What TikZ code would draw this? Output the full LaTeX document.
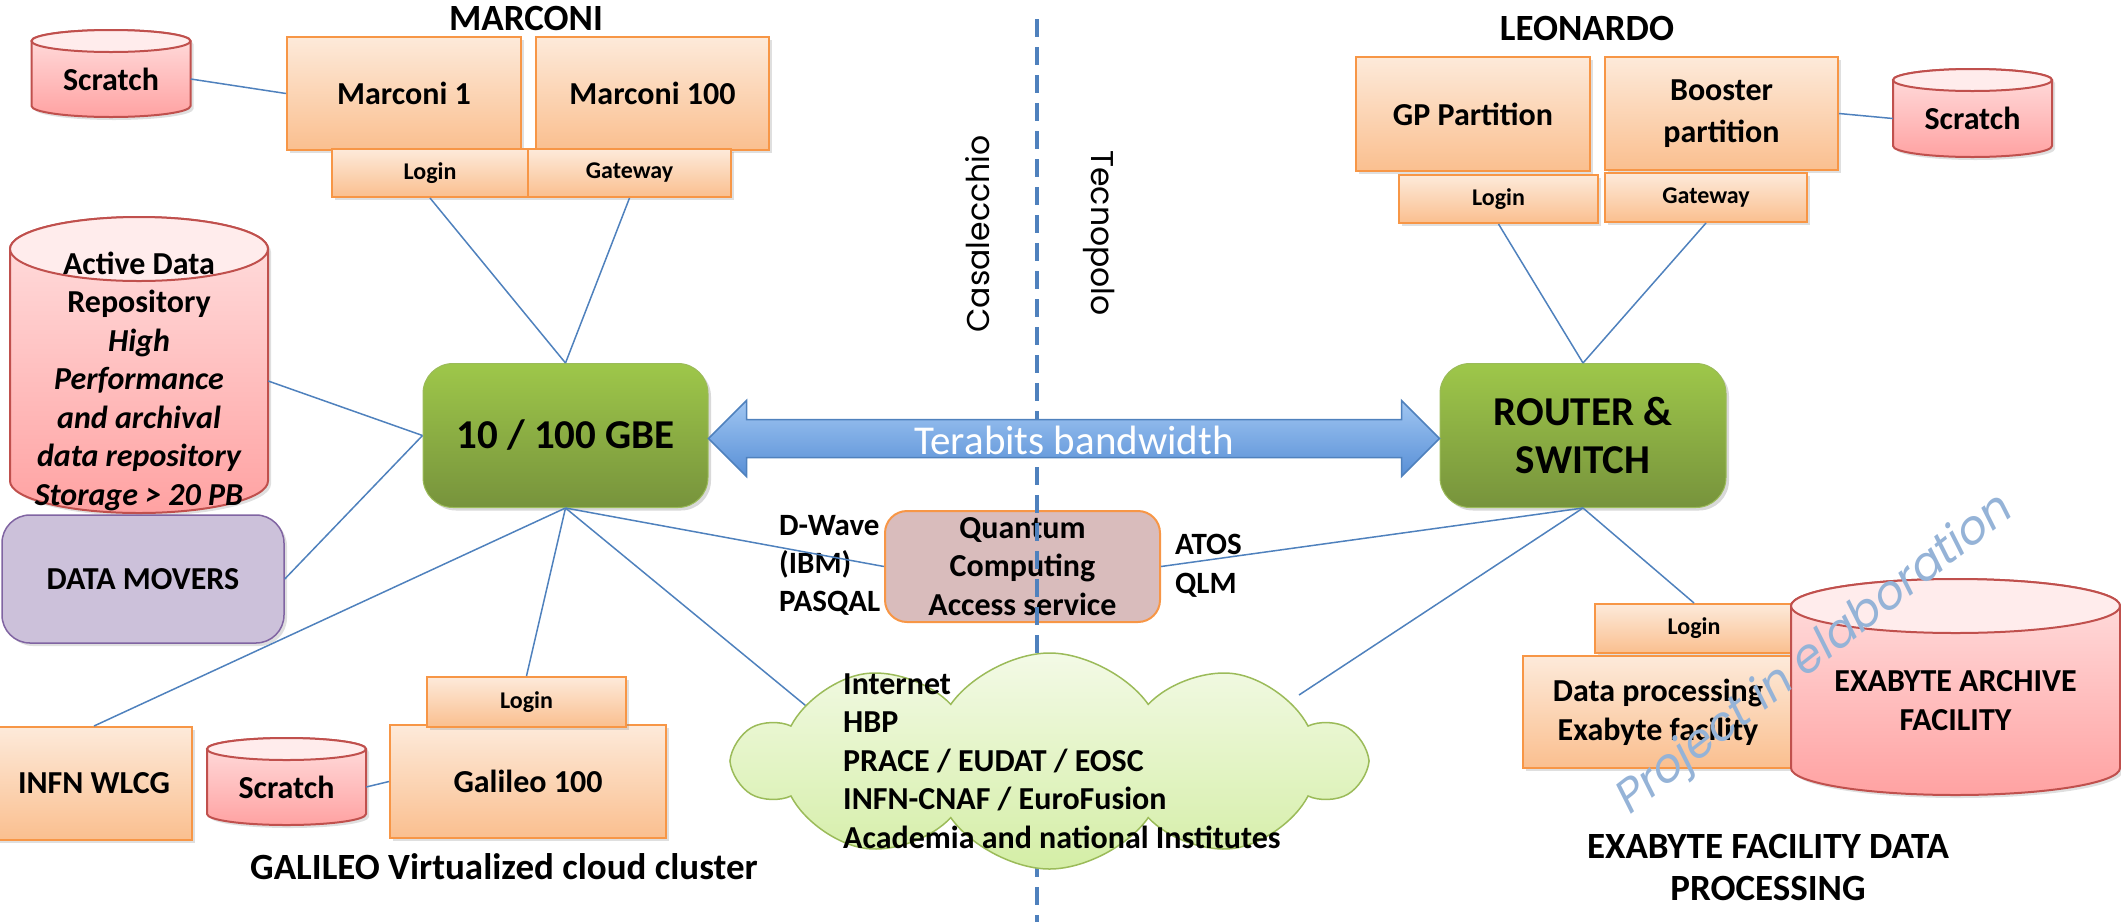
\documentclass[tikz,border=0pt]{standalone}
\usepackage{fontspec}
\setmainfont{Carlito}
\newfontfamily\gothic{Poppins}
\newfontfamily\gothicit[FakeSlant=0.2]{Poppins}
\usetikzlibrary{positioning,calc,shapes.symbols,shadows}

\definecolor{boxline}{RGB}{247,150,70}
\definecolor{boxtop}{RGB}{253,234,218}
\definecolor{boxbot}{RGB}{250,191,143}
\definecolor{greenline}{RGB}{155,187,89}
\definecolor{greentop}{RGB}{158,199,74}
\definecolor{greenbot}{RGB}{119,147,60}
\definecolor{drumline}{RGB}{192,80,77}
\definecolor{drumtop}{RGB}{255,224,224}
\definecolor{drumbot}{RGB}{255,162,162}
\definecolor{drumcap}{RGB}{255,236,236}
\definecolor{linkblue}{RGB}{79,129,189}
\definecolor{arrowtop}{RGB}{160,198,242}
\definecolor{arrowbot}{RGB}{88,143,214}
\definecolor{quantumfill}{RGB}{217,188,188}
\definecolor{moverfill}{RGB}{204,193,218}
\definecolor{moverline}{RGB}{128,100,162}
\definecolor{cloudtop}{RGB}{243,250,230}
\definecolor{cloudbot}{RGB}{212,238,166}
\definecolor{wmblue}{RGB}{149,179,215}

% storage drum: name, cx, cy, width, height, cap radius, text
\newcommand{\drum}[7]{%
  \draw[drumbody] (#2-#4/2,#3-#5/2+#6) -- (#2-#4/2,#3+#5/2-#6)
    arc[start angle=180,end angle=0,x radius=#4/2,y radius=#6]
    -- (#2+#4/2,#3-#5/2+#6)
    arc[start angle=0,end angle=-180,x radius=#4/2,y radius=#6] -- cycle;
  \draw[drumline,line width=2pt,fill=drumcap] (#2,#3-#5/2+#6) ellipse[x radius=#4/2,y radius=#6];
  \node[drumtext,minimum width=#4,minimum height=#5-#6] (#1) at (#2,#3+#6/2) {#7};
}

\begin{document}
\begin{tikzpicture}[x=1pt,y=-1pt,
    box/.style={draw=boxline,line width=2pt,top color=boxtop,bottom color=boxbot,inner sep=0pt,align=center,font=\fontsize{32}{39}\selectfont\bfseries,drop shadow={opacity=0.25,shadow xshift=3pt,shadow yshift=-3pt}},
    loginbox/.style={box,font=\fontsize{24}{28}\selectfont\bfseries},
    hub/.style={draw=greenline,line width=1pt,rounded corners=30pt,top color=greentop,bottom color=greenbot,inner sep=0pt,align=center,font=\fontsize{41}{48}\selectfont\bfseries,drop shadow={opacity=0.3,shadow xshift=3pt,shadow yshift=-3pt}},
    drumbody/.style={draw=drumline,line width=2pt,top color=drumtop,bottom color=drumbot,drop shadow={opacity=0.25,shadow xshift=3pt,shadow yshift=-3pt}},
    drumtext/.style={inner sep=0pt,align=center,font=\fontsize{32}{38.5}\selectfont\bfseries},
    link/.style={draw=linkblue,line width=1.5pt},
    title/.style={inner sep=0pt,align=center,font=\fontsize{37}{42}\selectfont\bfseries},
    plain/.style={inner sep=0pt,align=left,font=\fontsize{32}{38.5}\selectfont\bfseries}]
  \useasboundingbox (0,0) rectangle (2121,922);

  % titles
  \node[title] (marconit) at (526,18) {MARCONI};
  \node[title] (leonardot) at (1587,28) {LEONARDO};
  \node[title] (galileot) at (504,867) {GALILEO Virtualized cloud cluster};
  \node[title] (exabytet) at (1768,867) {EXABYTE FACILITY DATA\\PROCESSING};

  % storage
  \drum{scratchm}{111}{73.5}{159}{87}{11}{Scratch}
  \drum{adr}{139}{365}{258}{296}{32}{Active Data\\Repository\\\itshape High\\\itshape Performance\\\itshape and archival\\\itshape data repository\\\itshape Storage > 20 PB}
  \drum{scratchg}{286.5}{781.5}{159}{87}{11}{Scratch}
  \drum{scratchl}{1972.5}{113}{159}{88}{11}{Scratch}

  % Marconi
  \node[box,minimum width=234,minimum height=113] (m1) at (404,93.5) {Marconi 1};
  \node[box,minimum width=233,minimum height=113] (m100) at (652.5,93.5) {Marconi 100};
  \node[loginbox,minimum width=196,minimum height=48] (mlogin) at (430,173) {Login};
  \node[loginbox,minimum width=203,minimum height=48] (mgate) at (629.5,173) {Gateway};

  % Leonardo
  \node[box,minimum width=234,minimum height=114] (gp) at (1473,114) {GP Partition};
  \node[box,minimum width=233,minimum height=113,font=\fontsize{32}{42}\selectfont\bfseries] (booster) at (1721.5,113.5) {Booster\\partition};
  \node[loginbox,minimum width=199,minimum height=48] (llogin) at (1498.5,199) {Login};
  \node[loginbox,minimum width=202,minimum height=49] (lgate) at (1706,197.5) {Gateway};

  % switches
  \node[hub,minimum width=285,minimum height=144] (gbe) at (565.5,435.5) {10 / 100 GBE};
  \node[hub,minimum width=286,minimum height=144] (router) at (1583,435.5) {ROUTER \&\\SWITCH};

  \node[draw=moverline,line width=1.5pt,fill=moverfill,rounded corners=28pt,minimum width=282,minimum height=128,inner sep=0pt,font=\fontsize{32}{35}\selectfont\bfseries,drop shadow={opacity=0.25,shadow xshift=3pt,shadow yshift=-3pt}] (movers) at (143,579) {DATA MOVERS};
  \node[box,minimum width=195,minimum height=113] (infn) at (94,783.5) {INFN WLCG};

  % Galileo
  \node[box,minimum width=276,minimum height=113] (g100) at (528,781.5) {Galileo 100};
  \node[loginbox,minimum width=199,minimum height=50] (glogin) at (526.5,702) {Login};

  % quantum
  \node[draw=boxline,line width=2pt,fill=quantumfill,rounded corners=22pt,minimum width=275,minimum height=111,inner sep=0pt,align=center,font=\fontsize{32}{38.5}\selectfont\bfseries] (quantum) at (1022.5,566.5) {Quantum\\Computing\\Access service};
  \node[plain,anchor=west,font=\fontsize{31}{38}\selectfont\bfseries] (dwave) at (779,565) {D-Wave\\(IBM)\\PASQAL};
  \node[plain,anchor=west,font=\fontsize{31}{39}\selectfont\bfseries] (atos) at (1175,565.5) {ATOS\\QLM};

  % sites
  \coordinate (sitetop) at (1037,19);
  \coordinate (sitebot) at (1037,922);
  \draw[draw=linkblue,line width=4pt,dash pattern=on 18pt off 10pt] (sitetop) -- (sitebot);
  \node[rotate=90,inner sep=0pt,font=\gothic\fontsize{31.5}{40}\selectfont] (casalecchio) at (978,234) {Casalecchio};
  \node[rotate=-90,inner sep=0pt,font=\gothic\fontsize{31.5}{40}\selectfont] (tecnopolo) at (1099,233) {Tecnopolo};

  % links
  \coordinate (cloudin) at (811,710);
  \coordinate (cloudout) at (1299,695);
  \draw[link] (scratchm.east) -- (m1.west);
  \draw[link] (mlogin.south) -- (gbe.north);
  \draw[link] (mgate.south) -- (gbe.north);
  \draw[link] (adr.east) -- (gbe.west);
  \draw[link] (movers.east) -- (gbe.west);
  \draw[link] (infn.north) -- (gbe.south);
  \draw[link] (glogin.north) -- (gbe.south);
  \draw[link] (gbe.south) -- (quantum.west);
  \draw[link] (gbe.south) -- (cloudin);
  \draw[link] (llogin.south) -- (router.north);
  \draw[link] (lgate.south) -- (router.north);
  \draw[link] (booster.east) -- (scratchl.west);
  \draw[link] (scratchg.east) -- (g100.west);
  \draw[link] (quantum.east) -- (router.south);
  \draw[link] (router.south) -- (cloudout);

  % bandwidth arrow
  \coordinate (bwleft) at ($(gbe.east)+(0,3)$);
  \coordinate (bwright) at ($(router.west)+(0,3)$);
  \draw[draw=linkblue,line width=1.5pt,top color=arrowtop,bottom color=arrowbot] (bwleft) -- ++(38,-38) -- ++(0,19) -- ($(bwright)+(-38,-19)$) -- ++(0,-19) -- (bwright) -- ++(-38,38) -- ++(0,-19) -- ($(bwleft)+(38,19)$) -- ++(0,19) -- cycle;
  \node[text=white,inner sep=0pt,font=\fontsize{41}{46}\selectfont] (bandwidth) at ($(bwleft)!0.5!(bwright)+(0,2)$) {Terabits bandwidth};

  % networks
  \node[cloud,cloud puffs=10,cloud puff arc=110,aspect=1.9,draw=greenline,line width=1.5pt,top color=cloudtop,bottom color=cloudbot,minimum width=627,minimum height=216,inner sep=0pt] (cloud) at (1049.5,761) {};
  \node[plain,anchor=west] (networks) at (843,761) {Internet\\HBP\\PRACE / EUDAT / EOSC\\INFN-CNAF / EuroFusion\\Academia and national Institutes};

  % exabyte
  \node[loginbox,minimum width=198,minimum height=49] (exlogin) at (1694,628.5) {Login};
  \node[box,minimum width=270,minimum height=112] (exdp) at (1658,712) {Data processing\\Exabyte facility};
  \draw[link] (router.south) -- (exlogin.north);
  \drum{archive}{1955.5}{687}{329}{216}{27}{EXABYTE ARCHIVE\\FACILITY}

  \node[rotate=38,text=wmblue,inner sep=0pt,font=\gothicit\fontsize{46}{50}\selectfont] (watermark) at (1814,657) {Project in elaboration};
\end{tikzpicture}
\end{document}
